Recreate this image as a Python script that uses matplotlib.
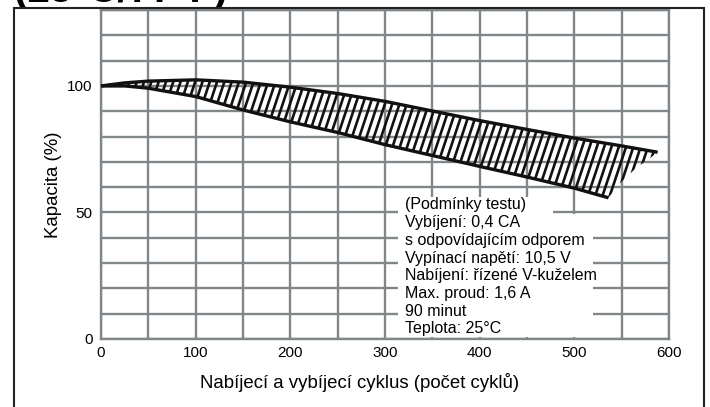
import numpy as np
import matplotlib
matplotlib.use("Agg")
import matplotlib.pyplot as plt
from matplotlib.patches import Rectangle, Polygon
from matplotlib.transforms import Bbox, TransformedBbox

# ---------------- data ----------------
upper_x = [0, 25, 50, 100, 150, 200, 250, 300, 350, 400, 450, 500, 550, 588]
upper_y = [100, 101.2, 101.9, 102.4, 101.5, 99.5, 97.0, 93.9, 90.1, 86.3, 82.8, 79.4, 76.3, 73.8]
lower_x = [0, 25, 50, 100, 150, 200, 250, 300, 350, 400, 450, 500, 536]
lower_y = [100, 100, 99.1, 95.8, 90.5, 85.8, 81.6, 76.8, 72.5, 68.2, 64.0, 59.6, 55.8]
tail_x = [548, 565, 580, 588]
tail_y = [61.5, 67.5, 71.5, 73.8]

x_ticks = [0, 100, 200, 300, 400, 500, 600]
y_ticks = [0, 50, 100]

title = "(25°C/77°F)"
xlabel = "Nabíjecí a vybíjecí cyklus (počet cyklů)"
ylabel = "Kapacita (%)"
conditions = ["(Podmínky testu)",
              "Vybíjení: 0,4 CA",
              "s odpovídajícím odporem",
              "Vypínací napětí: 10,5 V",
              "Nabíjení: řízené V-kuželem",
              "Max. proud: 1,6 A",
              "90 minut",
              "Teplota: 25°C"]

# ---------------- figure ----------------
W, H = 710, 407
plt.rcParams['font.family'] = ['Liberation Sans', 'DejaVu Sans']
fig = plt.figure(figsize=(W / 100, H / 100), dpi=100)

def fx(px):
    return px / W

def fy(py):
    return 1 - py / H

ax_l, ax_r, ax_t, ax_b = 101, 669, 10, 339
ax = fig.add_axes([fx(ax_l), fy(ax_b), fx(ax_r - ax_l), (ax_b - ax_t) / H])
ax.set_xlim(0, 600)
ax.set_ylim(0, 130)

grid_c = '#80868a'
ax.set_xticks(x_ticks)
ax.set_yticks(y_ticks)
ax.set_xticks(np.arange(0, 601, 50), minor=True)
ax.set_yticks(np.arange(0, 131, 10), minor=True)
ax.grid(True, which='both', color=grid_c, linewidth=1.7)
ax.set_axisbelow(True)
ax.tick_params(which='both', length=0)
ax.tick_params(axis='y', labelsize=11, pad=6, colors='black')
ax.tick_params(axis='x', labelsize=11, pad=5, colors='black')
for s in ax.spines.values():
    s.set_color(grid_c)
    s.set_linewidth(1.7)

# white box behind conditions text
px_per_x = (ax_r - ax_l) / 600
px_per_y = (ax_b - ax_t) / 130
def dx(px):
    return (px - ax_l) / px_per_x
def dy(py):
    return (ax_b - py) / px_per_y

ax.add_patch(Rectangle((dx(398), dy(214)), dx(553) - dx(398), dy(197) - dy(214),
                       facecolor='white', edgecolor='none', zorder=1.5))
ax.add_patch(Rectangle((dx(398), dy(337)), dx(593) - dx(398), dy(214) - dy(337),
                       facecolor='white', edgecolor='none', zorder=1.5))

# band polygon (used as clip path for hatching)
poly_x = list(upper_x) + list(tail_x[::-1]) + list(lower_x[::-1])
poly_y = list(upper_y) + list(tail_y[::-1]) + list(lower_y[::-1])
band = Polygon(np.column_stack([poly_x, poly_y]), closed=True,
               facecolor='none', edgecolor='none', zorder=2)
ax.add_patch(band)

# steep hatch texture (style only), clipped to the band
slope = (3.0 * px_per_x) / px_per_y  # data-units y per x for a 3:1 pixel slope
step = 7.3 / px_per_x
for x0 in np.arange(-80, 640, step):
    ys = np.array([30.0, 120.0])
    xs = x0 + (ys - 30.0) / slope
    ln, = ax.plot(xs, ys, color='#111111', linewidth=1.9, zorder=2,
                  solid_capstyle='butt')
    ln.set_clip_path(band)

ax.plot(upper_x, upper_y, color='#111111', linewidth=2.4, zorder=2.6,
        solid_capstyle='butt')
ax.plot(lower_x, lower_y, color='#111111', linewidth=2.4, zorder=2.6,
        solid_capstyle='butt')

# conditions text
for i, line in enumerate(conditions):
    py = 205 + 17.7 * i
    ax.text(dx(405), dy(py), line, fontsize=11.5, va='center', ha='left',
            color='black', zorder=3)

# axis labels (centered on the outer frame)
fig.text(fx(360), fy(383), xlabel, fontsize=13.4, ha='center', va='center')
fig.text(fx(53), fy(185), ylabel, fontsize=13.4, ha='center', va='center',
         rotation=90)

# outer frame
fig.add_artist(Rectangle((fx(14), fy(420)), fx(704) - fx(14), fy(8) - fy(420),
                         transform=fig.transFigure, facecolor='none',
                         edgecolor='#222222', linewidth=1.5, zorder=5))

# clipped title (cut by the image top)
t = fig.text(fx(14), fy(1.5), title, fontsize=29, fontweight='bold',
             ha='left', va='baseline')
t.set_clip_box(TransformedBbox(Bbox([[0, fy(8)], [1, 1]]), fig.transFigure))
t.set_clip_on(True)

fig.savefig('out.png', dpi=100)
